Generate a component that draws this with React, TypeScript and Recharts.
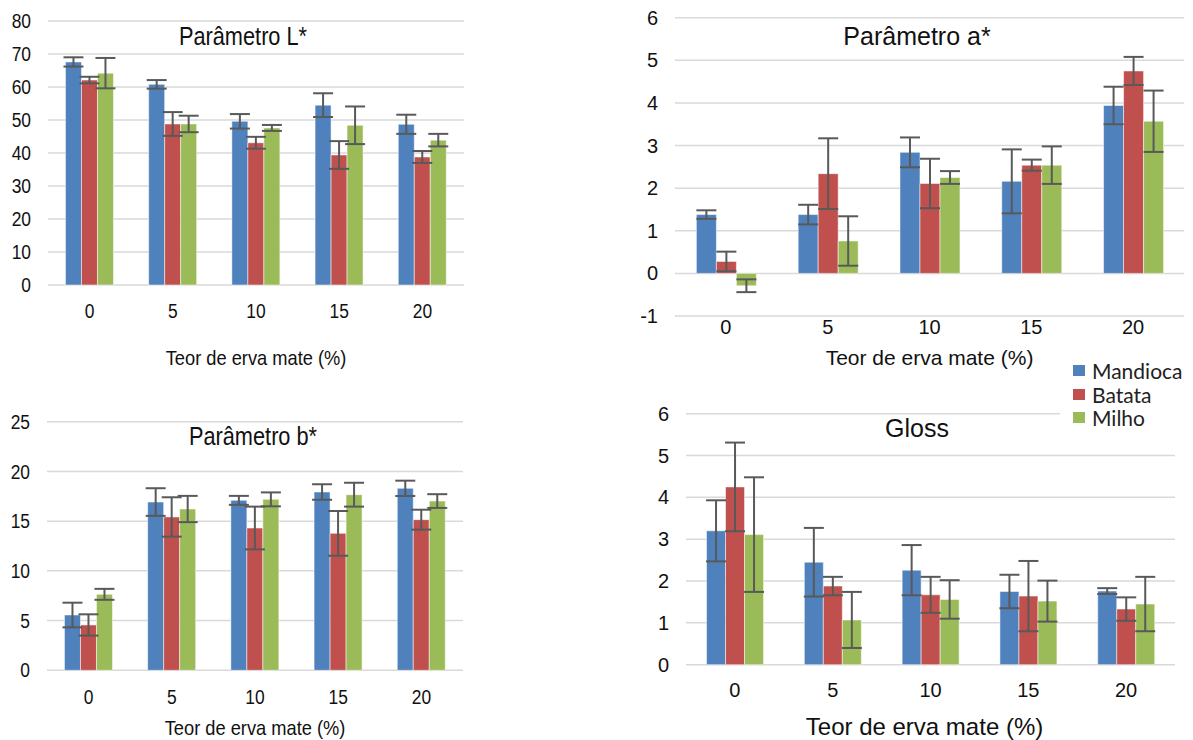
import { BarChart, Bar, XAxis, YAxis, CartesianGrid, ErrorBar, Legend } from "recharts";

const teores = ["0", "5", "10", "15", "20"];

// Parâmetro L*
const lMandioca = [67.6, 60.8, 49.6, 54.5, 48.7];
const lMandiocaSd = [1.4, 1.3, 2.2, 3.6, 2.9];
const lBatata = [62.1, 48.8, 43.1, 39.4, 38.8];
const lBatataSd = [1.0, 3.6, 1.8, 4.2, 1.8];
const lMilho = [64.2, 48.8, 47.6, 48.4, 43.9];
const lMilhoSd = [4.6, 2.5, 0.9, 5.7, 1.9];

// Parâmetro a*
const aMandioca = [1.38, 1.38, 2.84, 2.16, 3.94];
const aMandiocaSd = [0.1, 0.23, 0.35, 0.75, 0.44];
const aBatata = [0.28, 2.34, 2.11, 2.54, 4.75];
const aBatataSd = [0.23, 0.83, 0.58, 0.13, 0.33];
const aMilho = [-0.29, 0.76, 2.25, 2.54, 3.57];
const aMilhoSd = [0.15, 0.58, 0.15, 0.44, 0.72];

// Parâmetro b*
const bMandioca = [5.56, 16.92, 17.09, 17.93, 18.3];
const bMandiocaSd = [1.24, 1.39, 0.45, 0.78, 0.77];
const bBatata = [4.56, 15.42, 14.31, 13.77, 15.15];
const bBatataSd = [1.07, 1.98, 2.15, 2.25, 1.0];
const bMilho = [7.64, 16.22, 17.19, 17.66, 17.02];
const bMilhoSd = [0.55, 1.32, 0.7, 1.2, 0.69];

// Gloss
const gMandioca = [3.2, 2.45, 2.26, 1.75, 1.76];
const gMandiocaSd = [0.73, 0.82, 0.6, 0.4, 0.07];
const gBatata = [4.25, 1.88, 1.67, 1.64, 1.33];
const gBatataSd = [1.06, 0.22, 0.43, 0.84, 0.28];
const gMilho = [3.11, 1.07, 1.56, 1.52, 1.45];
const gMilhoSd = [1.37, 0.67, 0.46, 0.49, 0.65];

const FONT = "'Liberation Sans', Arial, sans-serif";
const INK = "#111";
const GRID = "#d9d9d9";
const ERR = "#595959";

const series = [
  { key: "mandioca", name: "Mandioca", color: "#4f81bd" },
  { key: "batata", name: "Batata", color: "#c0504d" },
  { key: "milho", name: "Milho", color: "#9bbb59" },
];

function buildRows(m: number[], ms: number[], b: number[], bs: number[], mi: number[], mis: number[]) {
  return teores.map((teor, i) => ({
    teor,
    mandioca: m[i],
    mandiocaSd: ms[i],
    batata: b[i],
    batataSd: bs[i],
    milho: mi[i],
    milhoSd: mis[i],
  }));
}

type PanelProps = {
  title: string;
  rows: any[];
  domain: [number, number];
  ticks: number[];
  left: number;
  top: number;
  width: number;
  height: number;
  margin: { top: number; right: number; left: number; bottom: number };
  yWidth: number;
  xHeight: number;
  xTickMargin: number;
  tickSize: number;
  axisTitleOffset: number;
  axisTitleSize: number;
  axisTitleShift?: number;
  titleX: number;
  titleY: number;
  squeeze: number; // horizontal text scale (left-hand panels are narrower)
  legend?: boolean;
};

// tick label with optional horizontal squeeze
function makeTick(fs: number, sx: number, anchor: "middle" | "end", dy: string) {
  return (props: any) => {
    const { x, y, payload } = props;
    return (
      <g transform={`translate(${x},${y}) scale(${sx},1)`}>
        <text x={0} y={0} dy={dy} textAnchor={anchor} fontSize={fs} fill={INK} fontFamily={FONT}>
          {payload.value}
        </text>
      </g>
    );
  };
}

function AxisTitle(props: any) {
  const { viewBox, offset, fs, sx, shift } = props;
  const cx = viewBox.x + viewBox.width / 2 + (shift || 0);
  const by = viewBox.y + viewBox.height - offset;
  return (
    <g transform={`translate(${cx},${by}) scale(${sx},1)`}>
      <text x={0} y={0} textAnchor="middle" fontSize={fs} fill={INK} fontFamily={FONT}>
        Teor de erva mate (%)
      </text>
    </g>
  );
}

// legend keeps the series order (recharts sorts by name otherwise)
function LegendBox(props: any) {
  const items = [...(props.payload || [])].sort(
    (a: any, b: any) =>
      series.findIndex((s) => s.name === a.value) - series.findIndex((s) => s.name === b.value)
  );
  return (
    <div style={{ background: "#fff", padding: "1px 0 4px 13px", fontFamily: "Lato, sans-serif", fontSize: 21, color: "#222" }}>
      {items.map((it: any) => (
        <div key={it.value} style={{ display: "flex", alignItems: "center", height: 23.5 }}>
          <span style={{ display: "inline-block", width: 12, height: 11, background: it.color, marginRight: 7 }} />
          {it.value}
        </div>
      ))}
    </div>
  );
}

function Panel(p: PanelProps) {
  return (
    <div style={{ position: "absolute", left: p.left, top: p.top, width: p.width, height: p.height, fontFamily: FONT }}>
      <BarChart width={p.width} height={p.height} data={p.rows} margin={p.margin} barCategoryGap="21%" barGap={0}>
        <CartesianGrid vertical={false} stroke={GRID} strokeWidth={1.5} />
        <XAxis
          dataKey="teor"
          height={p.xHeight}
          axisLine={false}
          tickLine={false}
          tickSize={0}
          tickMargin={p.xTickMargin}
          tick={makeTick(p.tickSize, p.squeeze, "middle", "0.71em")}
          label={
            <AxisTitle offset={p.axisTitleOffset} fs={p.axisTitleSize} sx={p.squeeze} shift={p.axisTitleShift} />
          }
        />
        <YAxis
          width={p.yWidth}
          domain={p.domain}
          ticks={p.ticks}
          interval={0}
          axisLine={false}
          tickLine={false}
          tickSize={0}
          tickMargin={17}
          tick={makeTick(p.tickSize, p.squeeze, "end", "0.355em")}
        />
        {series.map((s) => (
          <Bar key={s.key} dataKey={s.key} name={s.name} fill={s.color} stroke="#ffffff" strokeOpacity={0.5} isAnimationActive={false}>
            <ErrorBar dataKey={s.key + "Sd"} width={10} stroke={ERR} strokeWidth={2} isAnimationActive={false} />
          </Bar>
        ))}
        {p.legend && (
          <Legend
            layout="vertical"
            align="center"
            verticalAlign="middle"
            content={LegendBox}
            wrapperStyle={{ position: "absolute", left: 460, top: 18, width: 133 }}
          />
        )}
      </BarChart>
      <div
        style={{
          position: "absolute",
          left: p.titleX,
          top: p.titleY,
          transform: `translate(-50%, -50%) scaleX(${p.squeeze})`,
          fontFamily: FONT,
          fontSize: 25,
          lineHeight: 1,
          color: INK,
          whiteSpace: "nowrap",
        }}
      >
        {p.title}
      </div>
    </div>
  );
}

export default function App() {
  const lRows = buildRows(lMandioca, lMandiocaSd, lBatata, lBatataSd, lMilho, lMilhoSd);
  const aRows = buildRows(aMandioca, aMandiocaSd, aBatata, aBatataSd, aMilho, aMilhoSd);
  const bRows = buildRows(bMandioca, bMandiocaSd, bBatata, bBatataSd, bMilho, bMilhoSd);
  const gRows = buildRows(gMandioca, gMandiocaSd, gBatata, gBatataSd, gMilho, gMilhoSd);

  return (
    <div style={{ position: "absolute", left: 0, top: 0, width: 1193, height: 740, background: "#fff", overflow: "hidden" }}>
      <Panel
        title="Parâmetro L*"
        rows={lRows}
        domain={[0, 80]}
        ticks={[0, 10, 20, 30, 40, 50, 60, 70, 80]}
        left={0}
        top={0}
        width={600}
        height={370}
        margin={{ top: 21, right: 136, left: 0, bottom: 0 }}
        yWidth={48}
        xHeight={85}
        xTickMargin={18.9}
        tickSize={20}
        axisTitleOffset={13.5}
        axisTitleSize={21}
        titleX={242.5}
        titleY={36}
        squeeze={0.87}
      />
      <Panel
        title="Parâmetro a*"
        rows={aRows}
        domain={[-1, 6]}
        ticks={[-1, 0, 1, 2, 3, 4, 5, 6]}
        left={600}
        top={0}
        width={593}
        height={370}
        margin={{ top: 17.7, right: 9, left: 0, bottom: 0 }}
        yWidth={75}
        xHeight={54}
        xTickMargin={3.9}
        tickSize={20}
        axisTitleOffset={4.5}
        axisTitleSize={21}
        titleX={317}
        titleY={36}
        squeeze={1}
      />
      <Panel
        title="Parâmetro b*"
        rows={bRows}
        domain={[0, 25]}
        ticks={[0, 5, 10, 15, 20, 25]}
        left={0}
        top={370}
        width={600}
        height={370}
        margin={{ top: 51.7, right: 137, left: 0, bottom: 0 }}
        yWidth={47}
        xHeight={69.7}
        xTickMargin={19.3}
        tickSize={20}
        axisTitleOffset={4.2}
        axisTitleSize={21}
        titleX={253}
        titleY={66}
        squeeze={0.87}
      />
      <Panel
        title="Gloss"
        rows={gRows}
        domain={[0, 6]}
        ticks={[0, 1, 2, 3, 4, 5, 6]}
        left={600}
        top={340}
        width={593}
        height={400}
        margin={{ top: 73.7, right: 18, left: 0, bottom: 0 }}
        yWidth={86}
        xHeight={75.3}
        xTickMargin={18.2}
        tickSize={20}
        axisTitleOffset={3.2}
        axisTitleSize={24}
        axisTitleShift={-6}
        titleX={317}
        titleY={88}
        squeeze={1}
        legend
      />
    </div>
  );
}
